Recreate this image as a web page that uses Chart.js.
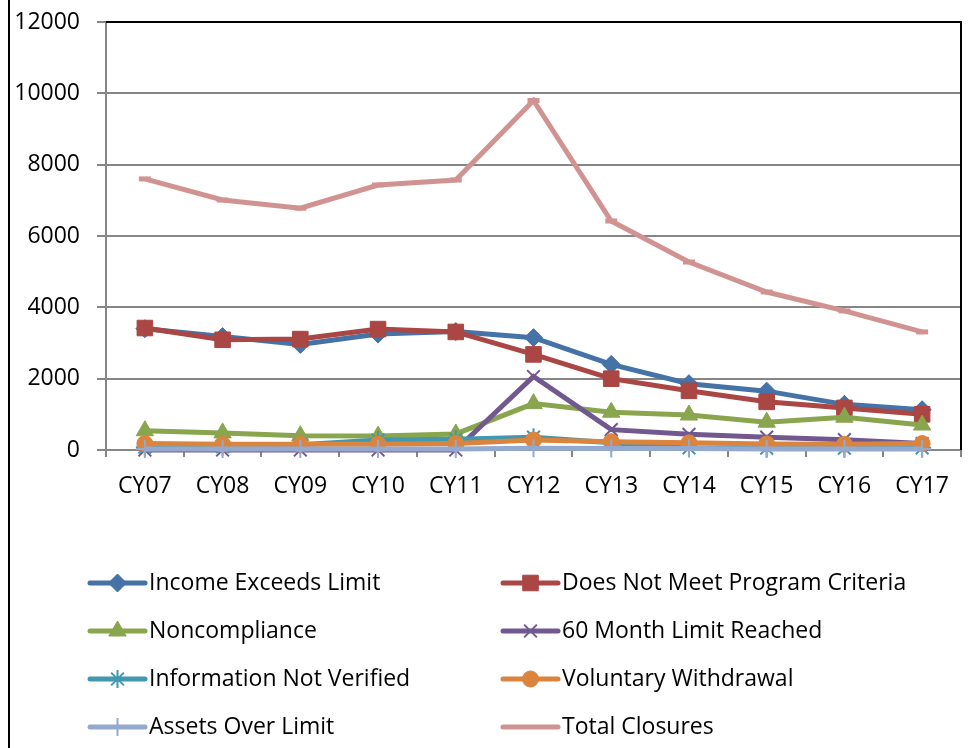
<!DOCTYPE html>
<html><head><meta charset="utf-8">
<script src="https://cdn.jsdelivr.net/npm/chart.js@4.4.1/dist/chart.umd.min.js"></script>
<style>html,body{margin:0;padding:0;background:#fff;}#wrap{width:973px;height:748px;}</style>
</head><body><div id="wrap"><canvas id="c" width="973" height="748"></canvas></div>
<script>
const categories = ['CY07','CY08','CY09','CY10','CY11','CY12','CY13','CY14','CY15','CY16','CY17'];
const incomeExceeds   = [3400, 3180, 2960, 3250, 3320, 3150, 2400, 1860, 1650, 1280, 1130];
const doesNotMeet     = [3420, 3090, 3110, 3390, 3310, 2680, 2000, 1660, 1350, 1180, 1000];
const noncompliance   = [540, 480, 400, 390, 450, 1300, 1060, 980, 780, 920, 700];
const monthLimit      = [0, 0, 0, 0, 0, 2060, 570, 440, 360, 290, 180];
const infoNotVerified = [80, 90, 150, 280, 300, 360, 200, 60, 50, 50, 60];
const voluntary       = [180, 160, 160, 160, 180, 280, 230, 200, 170, 160, 180];
const assetsOver      = [30, 30, 30, 30, 30, 50, 40, 40, 30, 30, 30];
const totalClosures   = [7600, 7010, 6780, 7430, 7570, 9800, 6420, 5270, 4430, 3900, 3310];
const seriesNames = ['Income Exceeds Limit','Does Not Meet Program Criteria','Noncompliance','60 Month Limit Reached','Information Not Verified','Voluntary Withdrawal','Assets Over Limit','Total Closures'];
const seriesValues = [incomeExceeds, doesNotMeet, noncompliance, monthLimit, infoNotVerified, voluntary, assetsOver, totalClosures];
const seriesColors = ['#4572A7','#AA4643','#89A54E','#71588F','#4198AF','#DB843D','#93A9CF','#D19392'];
const seriesMarkers = ['rectRot','rect','triangle','crossRot','star','circle','cross','line'];
const markerRadius = [9, 11, 10, 9, 9, 8, 9, 6];
const markerBorder = [1, 1, 1, 2, 2, 1, 2, 5];
const yMin = 0, yMax = 12000, yStep = 2000;

const FONT = "'Open Sans', sans-serif";

const datasets = seriesNames.map((name, i) => ({
  label: name,
  data: seriesValues[i],
  borderColor: seriesColors[i],
  backgroundColor: seriesColors[i],
  pointBackgroundColor: seriesColors[i],
  pointBorderColor: seriesColors[i],
  borderWidth: 5,
  tension: 0,
  pointStyle: seriesMarkers[i],
  pointRadius: markerRadius[i],
  pointBorderWidth: markerBorder[i],
  clip: false,
  order: seriesNames.length - i
}));

const framePlugin = {
  id: 'frameLegend',
  afterDraw(chart) {
    const ctx = chart.ctx, a = chart.chartArea;
    ctx.save();
    ctx.strokeStyle = '#000';
    ctx.lineWidth = 2;
    ctx.beginPath(); ctx.moveTo(9, 0); ctx.lineTo(9, 748); ctx.stroke();
    ctx.beginPath(); ctx.moveTo(a.left, a.top); ctx.lineTo(a.right, a.top); ctx.lineTo(a.right, a.bottom); ctx.stroke();
    const colX = [90, 503];
    const rowY = [583, 631, 679, 727];
    ctx.font = '23px ' + FONT;
    ctx.textBaseline = 'middle';
    ctx.textAlign = 'left';
    seriesNames.forEach((name, i) => {
      const x0 = colX[i % 2], y = rowY[Math.floor(i / 2)];
      ctx.strokeStyle = seriesColors[i];
      ctx.fillStyle = seriesColors[i];
      ctx.lineWidth = 5;
      ctx.lineCap = 'round';
      ctx.beginPath(); ctx.moveTo(x0, y); ctx.lineTo(x0 + 55, y); ctx.stroke();
      ctx.lineCap = 'butt';
      if (seriesMarkers[i] !== 'line') {
        ctx.lineWidth = markerBorder[i];
        Chart.helpers.drawPoint(ctx, {pointStyle: seriesMarkers[i], radius: markerRadius[i], rotation: 0, borderWidth: markerBorder[i]}, x0 + 27.5, y);
      }
      ctx.fillStyle = '#000';
      ctx.fillText(name, x0 + 59, y);
    });
    ctx.restore();
  }
};

new Chart(document.getElementById('c'), {
  type: 'line',
  data: { labels: categories, datasets },
  options: {
    responsive: false,
    animation: false,
    devicePixelRatio: 1,
    layout: { padding: { left: 0, right: 7, top: 22, bottom: 238 } },
    plugins: { legend: { display: false }, tooltip: { enabled: false } },
    scales: {
      x: {
        type: 'category',
        offset: true,
        grid: { display: true, drawOnChartArea: false, drawTicks: true, tickLength: 7, color: '#868686', lineWidth: 2, offset: true },
        border: { display: true, color: '#868686', width: 2 },
        ticks: { color: '#000', font: { family: FONT, size: 23 }, padding: 16, maxRotation: 0, autoSkip: false },
        afterFit(s) { s.height = 60; s.paddingLeft = 0; s.paddingRight = 0; }
      },
      y: {
        min: yMin, max: yMax,
        ticks: { stepSize: yStep, color: '#000', font: { family: FONT, size: 23 }, padding: 17, callback: v => String(v) },
        grid: { color: '#868686', lineWidth: 2, tickLength: 9, drawTicks: true },
        border: { display: true, color: '#868686', width: 2 },
        afterFit(s) { s.width = 106; s.paddingTop = 0; s.paddingBottom = 0; }
      }
    }
  },
  plugins: [framePlugin]
});
</script>
</body></html>
